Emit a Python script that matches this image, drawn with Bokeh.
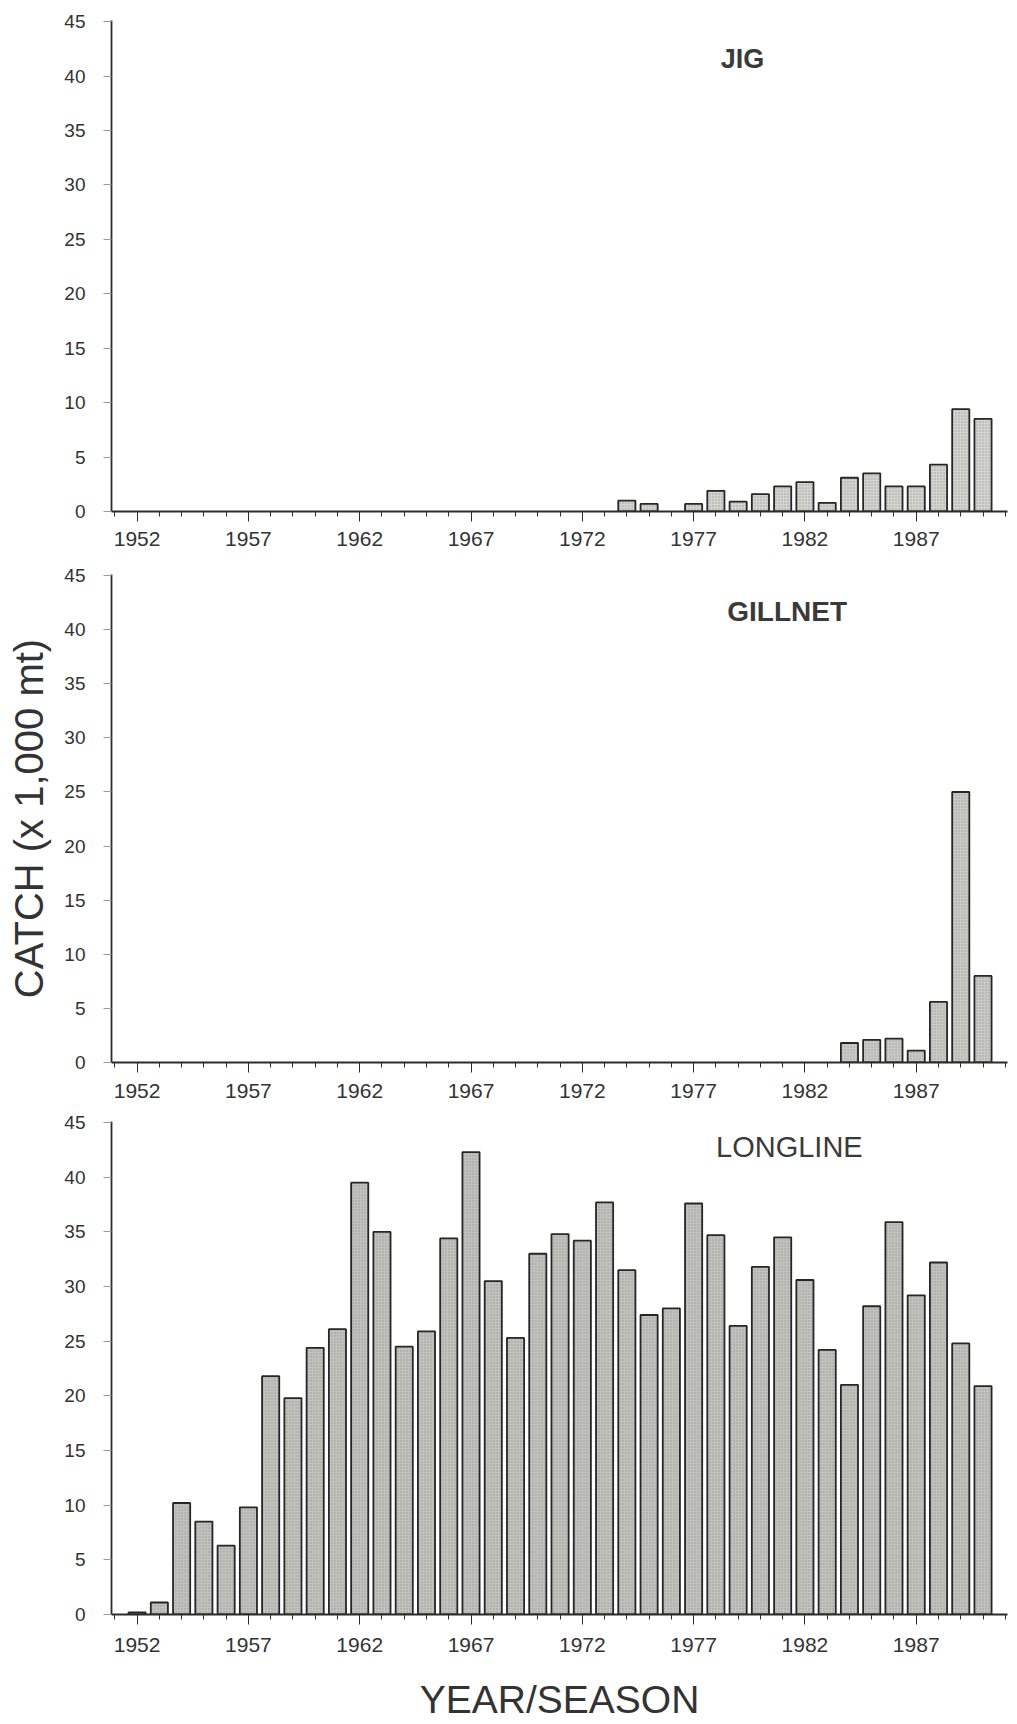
from bokeh.plotting import figure
from bokeh.layouts import column
from bokeh.models import Range1d, FixedTicker, Label
from bokeh.embed import file_html
from bokeh.resources import INLINE

# ---------------- data ----------------
jig_years = [1974, 1975, 1977, 1978, 1979, 1980, 1981, 1982, 1983, 1984, 1985, 1986, 1987, 1988, 1989, 1990]
jig_catch = [1.0, 0.7, 0.7, 1.9, 0.9, 1.6, 2.3, 2.7, 0.8, 3.1, 3.5, 2.3, 2.3, 4.3, 9.4, 8.5]

gillnet_years = [1984, 1985, 1986, 1987, 1988, 1989, 1990]
gillnet_catch = [1.8, 2.1, 2.2, 1.1, 5.6, 25.0, 8.0]

longline_years = list(range(1952, 1991))
longline_catch = [0.2, 1.1, 10.2, 8.5, 6.3, 9.8, 21.8, 19.8, 24.4, 26.1,
                  39.5, 35.0, 24.5, 25.9, 34.4, 42.3, 30.5, 25.3, 33.0, 34.8,
                  34.2, 37.7, 31.5, 27.4, 28.0, 37.6, 34.7, 26.4, 31.8, 34.5,
                  30.6, 24.2, 21.0, 28.2, 35.9, 29.2, 32.2, 24.8, 20.9]

x_major_ticks = [1952, 1957, 1962, 1967, 1972, 1977, 1982, 1987]
x_minor_ticks = list(range(1951, 1992))
y_ticks = [0, 5, 10, 15, 20, 25, 30, 35, 40, 45]

FONT = "Liberation Sans"
TXT = "#333333"


def panel(name, yrs, vals, height, top, bottom, left, right, title_xy, title_bold, title_size,
          label_standoff, fill, ylabel=None, xlabel=None):
    p = figure(width=1017, height=height, x_range=Range1d(1950.85, 1991.1),
               y_range=Range1d(0, 45.1), output_backend="svg", toolbar_location=None,
               min_border_left=left, min_border_right=right,
               min_border_top=top, min_border_bottom=bottom)
    p.outline_line_color = None
    p.background_fill_color = "white"
    p.border_fill_color = "white"
    p.xgrid.grid_line_color = None
    p.ygrid.grid_line_color = None

    p.vbar(x=yrs, top=vals, bottom=0, width=0.77,
           fill_color=fill, line_color="#262626", line_width=1.8,
           hatch_pattern=".", hatch_color="#7a7a7a", hatch_alpha=0.6, hatch_scale=3)

    xa = p.xaxis[0]
    xa.ticker = FixedTicker(ticks=x_major_ticks, minor_ticks=x_minor_ticks)
    xa.axis_line_color = "#2b2b2b"
    xa.axis_line_width = 1.8
    xa.major_tick_in = 0
    xa.major_tick_out = 10
    xa.minor_tick_in = 0
    xa.minor_tick_out = 5
    xa.major_tick_line_color = "#2b2b2b"
    xa.minor_tick_line_color = "#2b2b2b"
    xa.major_label_text_font = FONT
    xa.major_label_text_font_size = "21px"
    xa.major_label_text_color = TXT
    xa.major_label_standoff = label_standoff

    ya = p.yaxis[0]
    ya.ticker = FixedTicker(ticks=y_ticks, minor_ticks=[])
    ya.axis_line_color = "#2b2b2b"
    ya.axis_line_width = 1.8
    ya.major_tick_in = 0
    ya.major_tick_out = 8
    ya.major_tick_line_color = "#9a9a9a"
    ya.major_label_text_font = FONT
    ya.major_label_text_font_size = "19px"
    ya.major_label_text_color = TXT
    ya.major_label_standoff = 18

    if ylabel:
        ya.axis_label = ylabel
        ya.axis_label_text_font = FONT
        ya.axis_label_text_font_size = "40px"
        ya.axis_label_text_font_style = "normal"
        ya.axis_label_text_color = TXT
        ya.axis_label_standoff = 10
    if xlabel:
        xa.axis_label = xlabel
        xa.axis_label_text_font = FONT
        xa.axis_label_text_font_size = "39px"
        xa.axis_label_text_font_style = "normal"
        xa.axis_label_text_color = TXT
        xa.axis_label_standoff = 23

    p.add_layout(Label(x=title_xy[0], y=title_xy[1], text=name, text_font=FONT,
                       text_font_size=title_size,
                       text_font_style="bold" if title_bold else "normal",
                       text_color="#3a3a3a", text_align="center", text_baseline="middle"))
    return p


p1 = panel("JIG", jig_years, jig_catch, 556, 20, 45, 101, 10,
           (1979.2, 41.6), True, "27px", 10, "#d4d4d0")
p2 = panel("GILLNET", gillnet_years, gillnet_catch, 550, 18, 44, 108, 7,
           (1981.2, 41.7), True, "28px", 11, "#cacac6", ylabel="CATCH (x 1,000 mt)")
p3 = panel("LONGLINE", longline_years, longline_catch, 618, 15, 110, 111, 0,
           (1981.3, 42.8), False, "29px", 13, "#c2c2be", xlabel="YEAR/SEASON")

layout = column(p1, p2, p3, spacing=0)
open("out.html", "w").write(file_html(layout, INLINE))
